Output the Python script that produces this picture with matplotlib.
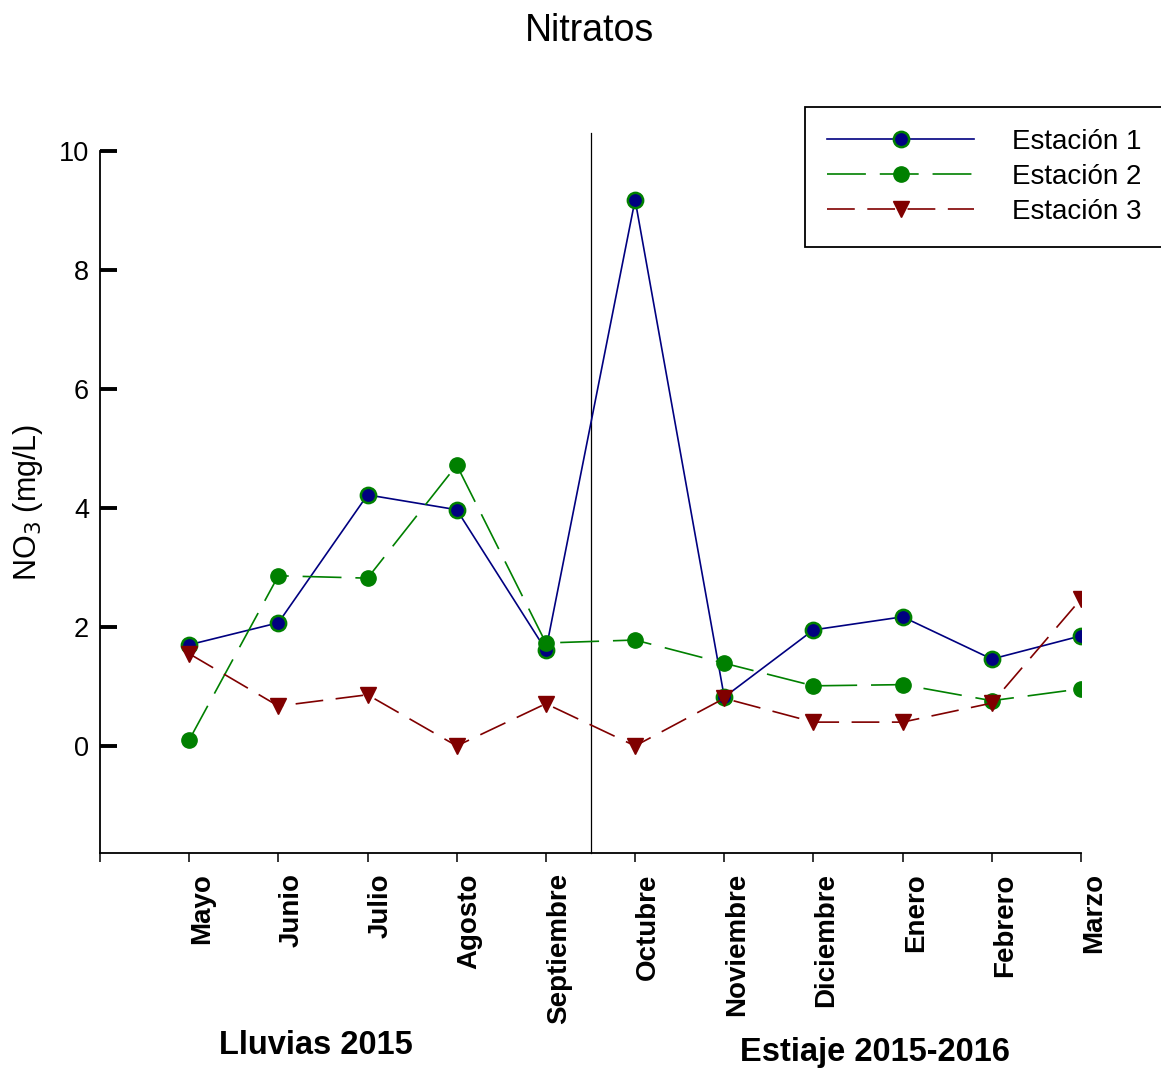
import matplotlib
matplotlib.use("Agg")
import matplotlib.pyplot as plt

plt.rcParams["font.family"] = ["Liberation Sans", "DejaVu Sans"]
plt.rcParams["lines.scale_dashes"] = False

MESES = ["Mayo", "Junio", "Julio", "Agosto", "Septiembre", "Octubre",
         "Noviembre", "Diciembre", "Enero", "Febrero", "Marzo"]
ESTACION_1 = [1.70, 2.07, 4.22, 3.97, 1.61, 9.18, 0.82, 1.95, 2.17, 1.46, 1.85]
ESTACION_2 = [0.10, 2.86, 2.82, 4.72, 1.73, 1.78, 1.39, 1.01, 1.03, 0.76, 0.96]
ESTACION_3 = [1.55, 0.67, 0.86, 0.00, 0.71, 0.00, 0.80, 0.40, 0.40, 0.72, 2.47]

W, H = 1161, 1069
fig = plt.figure(figsize=(W / 100, H / 100), dpi=100)
ax = fig.add_axes([100 / W, (H - 853) / H, (1081 - 100) / W, (853 - 151) / H])

x = list(range(1, len(MESES) + 1))
ax.plot(x, ESTACION_1, color="#000080", lw=1.2, marker="o", ms=11,
        mfc="#000080", mec="#008000", mew=1.8, label="Estación 1", zorder=3)
ax.plot(x, ESTACION_2, color="#008000", lw=1.2, marker="o", ms=11,
        mfc="#008000", mec="#008000", dashes=(28, 10), label="Estación 2", zorder=3)
ax.plot(x, ESTACION_3, color="#800000", lw=1.2, marker="v", ms=12,
        mfc="#800000", mec="#800000", dashes=(20, 9), label="Estación 3", zorder=3)

# separacion lluvias / estiaje
ax.plot([5.5, 5.5], [-1.8, 10.3], color="black", lw=0.9, clip_on=False)

ax.set_xlim(0, 11)
ax.set_ylim(-1.8, 10)
ax.set_xticks(range(0, 12))
ax.set_xticklabels([""] + MESES, rotation=90, fontsize=20, fontweight="bold")
ax.set_yticks([0, 2, 4, 6, 8, 10])
ax.tick_params(axis="y", direction="in", length=12, width=2.8, labelsize=19.5, pad=8)
ax.tick_params(axis="x", direction="out", length=6.5, width=1.1, pad=8)
for lab in ax.get_xticklabels():
    lab.set_ha("left")
ax.spines["top"].set_visible(False)
ax.spines["right"].set_visible(False)
ax.spines["left"].set_linewidth(1.3)
ax.spines["bottom"].set_linewidth(1.3)
ax.set_ylabel("NO$_3$ (mg/L)", fontsize=22, labelpad=10)

fig.text(590 / W, 1 - 31 / H, "Nitratos", fontsize=27, ha="center", va="center")
fig.text(316 / W, 1 - 1046 / H, "Lluvias 2015", fontsize=23.5, fontweight="bold",
         ha="center", va="center")
fig.text(875 / W, 1 - 1052 / H, "Estiaje 2015-2016", fontsize=23.5, fontweight="bold",
         ha="center", va="center")

leg = fig.legend(loc="upper right", bbox_to_anchor=(1163 / W, 1 - 107 / H),
                 fontsize=20, handlelength=5.3, handletextpad=1.35,
                 labelspacing=0.33, borderpad=0.78, fancybox=False,
                 edgecolor="black", framealpha=1, borderaxespad=0)
leg.get_frame().set_linewidth(1.3)

fig.savefig("out.png", dpi=100)
